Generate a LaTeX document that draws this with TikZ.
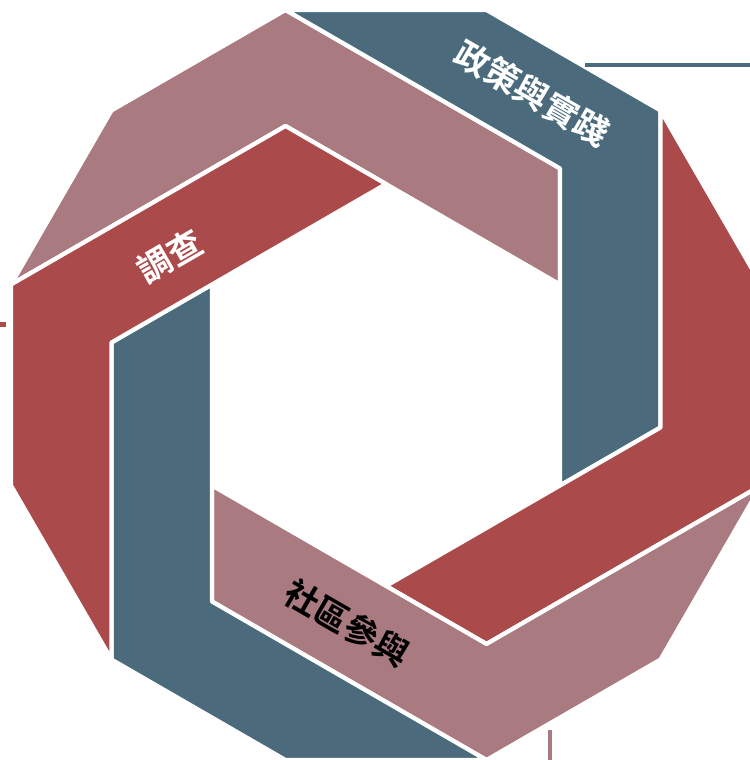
\documentclass[tikz,border=0pt]{standalone}
\usepackage{fontspec}
\newfontfamily\cjk{Noto Sans CJK TC}[BoldFont={Noto Sans CJK TC Bold}]
\usepackage{tikz}
\usetikzlibrary{positioning}

\definecolor{bandmauve}{HTML}{A97A80}
\definecolor{bandred}{HTML}{AB4A4B}
\definecolor{bandteal}{HTML}{4B6B7D}

\begin{document}
\begin{tikzpicture}[
    piece/.style={fill=#1, draw=white, line width=1.6pt, line join=round},
    bandtext/.style={font={\cjk\bfseries\fontsize{13}{15}\selectfont}, text=#1, inner sep=0pt},
    stub/.style={line width=1.7pt, draw=#1}
]
% Frame: the outer ring runs past the right and bottom edges
\clip (-5.1467,-5) rectangle (4.8533,5.1333);

% Six bands, clockwise from the top left
\draw[piece=bandmauve] (-5,1.3397) -- (-3.6603,3.6603) -- (-1.3397,5) -- (2.3205,2.8868) -- (2.3205,1.3397) -- (-1.3397,3.4530) -- cycle;
\draw[piece=bandteal, rotate=-60] (-5,1.3397) -- (-3.6603,3.6603) -- (-1.3397,5) -- (2.3205,2.8868) -- (2.3205,1.3397) -- (-1.3397,3.4530) -- cycle;
\draw[piece=bandred, rotate=-120] (-5,1.3397) -- (-3.6603,3.6603) -- (-1.3397,5) -- (2.3205,2.8868) -- (2.3205,1.3397) -- (-1.3397,3.4530) -- cycle;
\draw[piece=bandmauve, rotate=180] (-5,1.3397) -- (-3.6603,3.6603) -- (-1.3397,5) -- (2.3205,2.8868) -- (2.3205,1.3397) -- (-1.3397,3.4530) -- cycle;
\draw[piece=bandteal, rotate=120] (-5,1.3397) -- (-3.6603,3.6603) -- (-1.3397,5) -- (2.3205,2.8868) -- (2.3205,1.3397) -- (-1.3397,3.4530) -- cycle;
\draw[piece=bandred, rotate=60] (-5,1.3397) -- (-3.6603,3.6603) -- (-1.3397,5) -- (2.3205,2.8868) -- (2.3205,1.3397) -- (-1.3397,3.4530) -- cycle;

% Labels
\node[bandtext=white, rotate=-30] (policy) at (1.95,3.89) {政策與實踐};
\node[bandtext=white, rotate=30] (survey) at (-2.88,1.72) {調查};
\node[bandtext=black, rotate=-30] (community) at (-0.52,-3.173) {社區參與};

% Connector stubs leaving the picture
\coordinate (policyout) at (2.653,4.267);
\coordinate (policyfar) at (5.3,4.267);
\coordinate (surveyout) at (-5.067,0.807);
\coordinate (surveyfar) at (-5.4,0.807);
\coordinate (communityout) at (2.187,-4.6);
\coordinate (communityfar) at (2.187,-5.4);
\draw[stub=bandteal] (policyout) -- (policyfar);
\draw[stub=bandred] (surveyout) -- (surveyfar);
\draw[stub=bandmauve] (communityout) -- (communityfar);

\end{tikzpicture}
\end{document}
